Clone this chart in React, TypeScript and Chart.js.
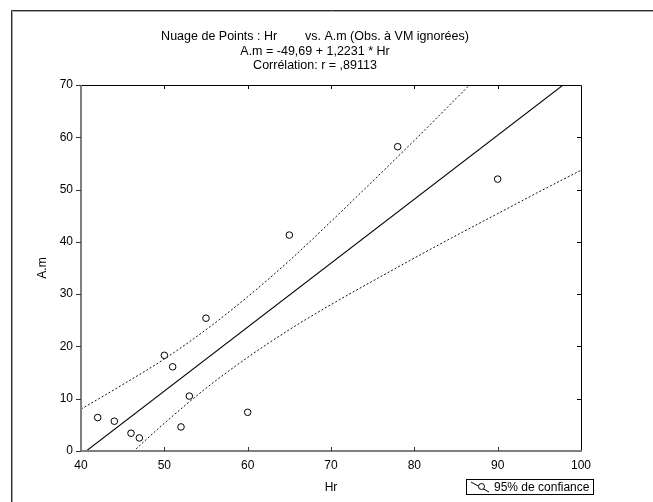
import React, { useEffect, useRef } from "react";
import { Chart, registerables } from "chart.js";

Chart.register(...registerables);

// Observations
const hrValues = [42, 44, 46, 47, 50, 51, 52, 53, 55, 60, 65, 78, 90];
const amValues = [6.4, 5.7, 3.4, 2.5, 18.3, 16.1, 4.6, 10.5, 25.4, 7.4, 41.3, 58.2, 52.0];

// Regression line end points (A.m = -49,69 + 1,2231 * Hr)
const fitHr = [40, 100];
const fitAm = [-0.77, 72.62];

// 95% confidence band, read along Hr
const bandHr = [40, 45, 50, 55, 60, 65, 70, 75, 80, 85, 90, 95, 100];
const bandUpper = [8.0, 12.7, 17.6, 23.2, 29.5, 36.4, 43.9, 51.6, 59.4, 67.4, 75.4, 83.5, 91.5];
const bandLower = [-9.6, -2.0, 5.3, 12.0, 17.9, 23.2, 28.0, 32.5, 36.9, 41.2, 45.4, 49.6, 53.7];

// Axis ticks
const xTicks = [40, 50, 60, 70, 80, 90, 100];
const yTicks = [0, 10, 20, 30, 40, 50, 60, 70];

const titleLines = [
  "Nuage de Points : Hr        vs. A.m (Obs. à VM ignorées)",
  "A.m = -49,69 + 1,2231 * Hr",
  "Corrélation: r = ,89113",
];
const legendLabel = "95% de confiance";
const xTitle = "Hr";
const yTitle = "A.m";

const FONT = "'Liberation Sans', Arial, Helvetica, sans-serif";

const decorPlugin = {
  id: "decor",
  afterDraw(chart: any) {
    const ctx = chart.ctx as CanvasRenderingContext2D;
    const { left, right, top, bottom } = chart.chartArea;
    const xs = chart.scales.x;
    const ys = chart.scales.y;
    ctx.save();

    // outer frame
    ctx.lineWidth = 1;
    ctx.strokeStyle = "#2a2a2a";
    ctx.beginPath();
    ctx.moveTo(11.5, chart.height);
    ctx.lineTo(11.5, 10.5);
    ctx.lineTo(chart.width, 10.5);
    ctx.stroke();
    ctx.strokeStyle = "#a8a8a8";
    ctx.beginPath();
    ctx.moveTo(12.5, chart.height);
    ctx.lineTo(12.5, 11.5);
    ctx.lineTo(chart.width, 11.5);
    ctx.stroke();

    // top and right borders (black)
    ctx.strokeStyle = "#000";
    ctx.lineWidth = 1;
    ctx.beginPath();
    ctx.moveTo(left, top + 0.5);
    ctx.lineTo(right + 0.5, top + 0.5);
    ctx.lineTo(right + 0.5, bottom);
    ctx.stroke();

    // inner ticks top / right
    ctx.beginPath();
    for (const v of xTicks) {
      const px = Math.round(xs.getPixelForValue(v)) + 0.5;
      if (v !== xTicks[0] && v !== xTicks[xTicks.length - 1]) {
        ctx.moveTo(px, top);
        ctx.lineTo(px, top + 4);
      }
    }
    for (const v of yTicks) {
      const py = Math.round(ys.getPixelForValue(v)) + 0.5;
      if (v !== yTicks[0] && v !== yTicks[yTicks.length - 1]) {
        ctx.moveTo(right, py);
        ctx.lineTo(right - 4, py);
      }
    }
    ctx.stroke();

    // left and bottom axes (gray, thick)
    ctx.strokeStyle = "#7f7f7f";
    ctx.lineWidth = 2;
    ctx.beginPath();
    ctx.moveTo(left, top);
    ctx.lineTo(left, bottom);
    ctx.lineTo(right + 1, bottom);
    ctx.stroke();

    ctx.lineWidth = 1;
    ctx.strokeStyle = "#333";
    ctx.beginPath();
    for (const v of yTicks) {
      const py = Math.round(ys.getPixelForValue(v)) + 0.5;
      ctx.moveTo(left - 5, py);
      ctx.lineTo(left, py);
    }
    for (const v of xTicks) {
      const px = Math.round(xs.getPixelForValue(v)) + 0.5;
      if (v !== xTicks[0] && v !== xTicks[xTicks.length - 1]) {
        ctx.moveTo(px, bottom);
        ctx.lineTo(px, bottom - 4);
      }
    }
    ctx.stroke();

    // title
    ctx.fillStyle = "#000";
    ctx.font = `12.5px ${FONT}`;
    ctx.textAlign = "center";
    ctx.textBaseline = "middle";
    const tx = 315;
    const tys = [37, 51.5, 66];
    titleLines.forEach((t, i) => ctx.fillText(t, tx, tys[i]));

    // legend box
    const bx = 466.5, by = 479.5, bw = 127, bh = 15;
    ctx.fillStyle = "#fff";
    ctx.fillRect(bx, by, bw, bh);
    ctx.strokeStyle = "#000";
    ctx.lineWidth = 1;
    ctx.strokeRect(bx, by, bw, bh);
    ctx.beginPath();
    ctx.moveTo(471, 482);
    ctx.lineTo(489, 492);
    ctx.stroke();
    ctx.beginPath();
    ctx.arc(481.5, 486.5, 3, 0, Math.PI * 2);
    ctx.fillStyle = "#fff";
    ctx.fill();
    ctx.stroke();
    ctx.fillStyle = "#000";
    ctx.font = `12px ${FONT}`;
    ctx.textAlign = "left";
    ctx.fillText(legendLabel, 494, by + bh / 2 + 0.5);

    ctx.restore();
  },
};

export default function App() {
  const canvasRef = useRef<HTMLCanvasElement | null>(null);

  useEffect(() => {
    const canvas = canvasRef.current;
    if (!canvas) return;
    const scatter = hrValues.map((x, i) => ({ x, y: amValues[i] }));
    const fit = fitHr.map((x, i) => ({ x, y: fitAm[i] }));
    const upper = bandHr.map((x, i) => ({ x, y: bandUpper[i] }));
    const lower = bandHr.map((x, i) => ({ x, y: bandLower[i] }));

    const chart = new Chart(canvas, {
      type: "scatter",
      data: {
        datasets: [
          {
            label: "obs",
            data: scatter,
            pointStyle: "circle",
            pointRadius: 3.3,
            pointBorderWidth: 1,
            borderColor: "#000",
            backgroundColor: "#fff",
            showLine: false,
            order: 0,
          },
          {
            label: "fit",
            data: fit,
            type: "line",
            showLine: true,
            borderColor: "#000",
            borderWidth: 1.1,
            pointRadius: 0,
            fill: false,
            order: 1,
          },
          {
            label: "upper",
            data: upper,
            type: "line",
            showLine: true,
            borderColor: "#111",
            borderWidth: 1,
            borderDash: [2, 2],
            pointRadius: 0,
            cubicInterpolationMode: "monotone",
            fill: false,
            order: 2,
          },
          {
            label: "lower",
            data: lower,
            type: "line",
            showLine: true,
            borderColor: "#111",
            borderWidth: 1,
            borderDash: [2, 2],
            pointRadius: 0,
            cubicInterpolationMode: "monotone",
            fill: false,
            order: 3,
          },
        ],
      },
      options: {
        responsive: false,
        animation: false,
        events: [],
        layout: { padding: { top: 85, right: 72, left: 0, bottom: 0 } },
        plugins: {
          legend: { display: false },
          title: { display: false },
          tooltip: { enabled: false },
        },
        scales: {
          x: {
            type: "linear",
            min: 40,
            max: 100,
            afterBuildTicks: (s: any) => {
              s.ticks = xTicks.map((v) => ({ value: v }));
            },
            afterFit: (s: any) => {
              s.height = 51;
            },
            ticks: {
              color: "#000",
              font: { family: FONT, size: 12 },
              padding: 7,
            },
            grid: { display: false, drawTicks: false },
            border: { display: false },
            title: {
              display: true,
              text: xTitle,
              color: "#000",
              font: { family: FONT, size: 12 },
              padding: { top: 0, bottom: 7 },
            },
          },
          y: {
            type: "linear",
            min: 0,
            max: 70,
            afterBuildTicks: (s: any) => {
              s.ticks = yTicks.map((v) => ({ value: v }));
            },
            afterFit: (s: any) => {
              s.width = 81;
            },
            ticks: {
              color: "#000",
              font: { family: FONT, size: 12 },
              padding: 8,
            },
            grid: { display: false, drawTicks: false },
            border: { display: false },
            title: {
              display: true,
              text: yTitle,
              color: "#000",
              font: { family: FONT, size: 12 },
              padding: { top: 35, bottom: 0 },
            },
          },
        },
      },
      plugins: [decorPlugin],
    } as any);

    return () => chart.destroy();
  }, []);

  return (
    <div style={{ position: "fixed", left: 0, top: 0, width: 653, height: 502, background: "#fff" }}>
      <canvas ref={canvasRef} width={653} height={502} style={{ width: 653, height: 502, display: "block" }} />
    </div>
  );
}
